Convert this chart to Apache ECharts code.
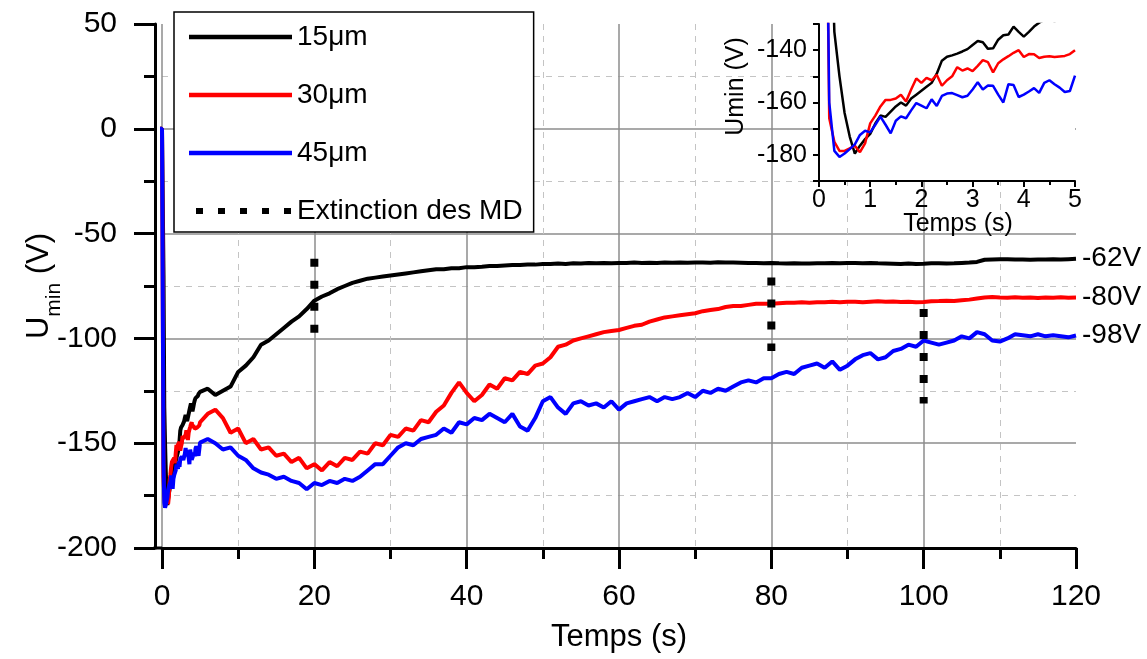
<!DOCTYPE html>
<html><head><meta charset="utf-8">
<script src="https://cdn.jsdelivr.net/npm/echarts@6/dist/echarts.min.js"></script>
<style>html,body{margin:0;padding:0;background:#fff}#c{width:1147px;height:659px}</style>
</head><body><div id="c"></div>
<script>
const FONT = 'Liberation Sans, Arial, Helvetica, sans-serif';
const seriesNames = ['15μm', '30μm', '45μm'];
const seriesColors = ['#000000', '#ff0000', '#0000ff'];
const endLabels = ['-62V', '-80V', '-98V'];
const extinctionName = 'Extinction des MD';

// early transient (also shown in inset), time in s
const tEarly = [-0.8, 0, 0.1, 0.2, 0.3, 0.4, 0.5, 0.6, 0.7, 0.8, 0.9, 1.0, 1.1, 1.2, 1.3, 1.4, 1.5, 1.6, 1.7, 1.8, 1.9, 2.0, 2.1, 2.2, 2.3, 2.4, 2.5, 2.6, 2.7, 2.8, 2.9, 3.0, 3.1, 3.2, 3.3, 3.4, 3.5, 3.6, 3.7, 3.8, 3.9, 4.0, 4.1, 4.2, 4.3, 4.4, 4.5, 4.6, 4.7, 4.8, 4.9, 5.0];
const blackEarly = [0, 0, 0, -70, -133, -150, -164, -173, -179.5, -176.5, -174, -172, -168, -165, -165.5, -163.5, -161.5, -160, -161.2, -158.5, -157, -155.5, -154, -152.5, -149, -144, -142.5, -142, -141.3, -140.5, -139.6, -138, -136.5, -137, -139.5, -139.3, -136, -134.3, -134, -131, -133, -134.8, -133, -131, -129.5, -128.5, -128, -129, -127.5, -126.5, -127, -125.5];
const redEarly = [0, 0, 0, -166, -175, -178.5, -178.5, -177.5, -176.5, -179, -175.6, -168, -165, -161.5, -159, -159, -158.5, -157, -159.6, -155, -150.8, -152.5, -150.6, -151.5, -149.4, -153.6, -151.5, -150, -146.5, -147.8, -147, -148, -146, -143.8, -144.6, -148.5, -145, -143.5, -142.3, -141, -140, -142.6, -141.5, -141.6, -143, -142.5, -142.3, -142.6, -142.4, -142.2, -141.5, -140];
const blueEarly = [0, 0, 0, -160, -178.5, -180.8, -179.5, -177.8, -176, -172.4, -170.8, -171.4, -168.5, -165.4, -168.5, -171.8, -167, -165.3, -166, -163, -160.2, -161.2, -162.2, -158.8, -161.3, -157.5, -156.6, -156.4, -157.2, -158, -157.4, -155, -152.3, -155, -153.5, -153.6, -157, -160, -153, -153.3, -157.9, -157, -155.8, -154.5, -156.3, -152.5, -151.5, -153, -154.3, -156, -155.6, -149.7];

// rest of the record, time in s
const tLate = [6, 7, 8, 9, 10, 11, 12, 13, 14, 15, 16, 17, 18, 19, 20, 21, 22, 23, 24, 25, 26, 27, 28, 29, 30, 31, 32, 33, 34, 35, 36, 37, 38, 39, 40, 41, 42, 43, 44, 45, 46, 47, 48, 49, 50, 51, 52, 53, 54, 55, 56, 57, 58, 59, 60, 61, 62, 63, 64, 65, 66, 67, 68, 69, 70, 71, 72, 73, 74, 75, 76, 77, 78, 79, 80, 81, 82, 83, 84, 85, 86, 87, 88, 89, 90, 91, 92, 93, 94, 95, 96, 97, 98, 99, 100, 101, 102, 103, 104, 105, 106, 107, 108, 109, 110, 111, 112, 113, 114, 115, 116, 117, 118, 119, 120];
const blackLate = [-124, -127, -125, -123, -116, -113, -109, -103, -101, -98, -95, -92, -89.5, -86, -82, -80, -78.5, -76.5, -75, -73.5, -72.5, -71.5, -71, -70.5, -70, -69.5, -69, -68.5, -68, -67.5, -67, -67, -66.5, -66.5, -66, -66, -65.8, -65.5, -65.5, -65.2, -65, -65, -64.8, -64.8, -64.5,
  -64.5, -64.3, -64.5, -64.2, -64.3, -64, -64.2, -64, -64.1, -64,
  -64, -63.8, -64, -63.9, -64, -63.8, -63.9, -63.8, -63.9, -63.8,
  -63.8, -63.9, -63.7, -63.8, -63.8, -63.9, -64, -64, -64.2, -64,
  -64.2, -64.3, -64.2, -64.3, -64.3, -64.2, -64.1, -64, -64.1, -64,
  -64, -64.1, -64, -64.2, -64.3, -64.4, -64.5, -64.3, -64.5, -64.4,
  -64.2, -64.1, -64.3, -64.2, -64, -63.8, -63.5, -62.5, -62.3, -62.2,
  -62.2, -62.4, -62.3, -62.5, -62.4, -62.3, -62.2, -62.4, -62.2, -62];
const redLate = [-136, -134, -138, -145, -143, -150, -148, -153, -152, -156, -155, -159, -157, -162, -160, -163, -159, -161, -157, -158, -154, -155, -150, -151, -146, -147, -143, -144, -139, -140, -135, -132, -126, -121, -126, -130, -127, -122, -124, -119, -120, -116, -117, -113, -112,
  -109, -104, -103, -101, -100, -99, -98, -97, -96.5, -96,
  -95, -94, -93.5, -92, -91, -90, -89.5, -89, -88.5, -88,
  -87, -86.5, -86, -85, -84.5, -84.5, -84, -83.5, -83.5, -83.5,
  -83.2, -83, -83, -82.8, -83, -82.7, -82.8, -82.5, -82.7, -82.5,
  -82.5, -82.7, -82.5, -82.3, -82.5, -82.4, -82.6, -82.5, -82.8, -82.6,
  -82.3, -82.2, -82, -82.2, -81.8, -81.5, -81, -80.5, -80.3, -80.5,
  -80.6, -80.4, -80.6, -80.5, -80.7, -80.5, -80.6, -80.4, -80.6, -80.5];
const blueLate = [-148, -150, -153, -152, -156, -158, -162, -164, -165, -167, -166, -168, -169, -172, -169, -170, -168, -169, -167, -168, -166, -163, -160, -160, -156, -152, -150, -151, -148, -147, -146, -143, -145, -140, -141, -138, -139, -136, -138, -140, -136, -142, -144, -138, -130,
  -128, -133, -136, -131, -130, -132, -131, -133, -130, -134,
  -131, -130, -129, -128, -130, -128, -129, -128, -126, -128,
  -125, -126, -124, -125, -123, -121, -120, -121, -119, -119,
  -117, -116, -117, -114, -113, -112, -114, -111, -115, -113,
  -110, -108, -107, -110, -109, -106, -105, -103, -104, -101,
  -102, -103, -102, -101, -99, -100, -97, -98, -101, -101.5,
  -100, -98, -98.5, -99, -98, -99, -98.5, -99, -99.5, -98.6];

// "Extinction des MD" markers
const extinctionT = [20, 80, 100];
const extinctionTop = [-62, -71, -86];
const extinctionBottom = [-104, -106, -131];

const Y_OFFSET = 7;
const zip = (ts, vs) => ts.map((t, i) => [t, vs[i]]);
const mainValues = [blackEarly.concat(blackLate), redEarly.concat(redLate), blueEarly.concat(blueLate)];
const earlyValues = [blackEarly, redEarly, blueEarly];
const tAll = tEarly.concat(tLate);

const chart = echarts.init(document.getElementById('c'), null, {renderer: 'canvas'});

const series = [];
seriesNames.forEach((name, i) => {
  series.push({
    name, type: 'line', xAxisIndex: 0, yAxisIndex: 0, data: zip(tAll, mainValues[i]),
    showSymbol: false, symbol: 'none', clip: false, z: 2, animation: false,
    lineStyle: {color: seriesColors[i], width: 4}, itemStyle: {color: seriesColors[i]},
    endLabel: {show: true, formatter: endLabels[i], color: '#000', fontSize: 28, fontFamily: FONT, distance: 6}
  });
});
extinctionT.forEach((t, i) => {
  series.push({
    name: extinctionName, type: 'line', xAxisIndex: 0, yAxisIndex: 0,
    data: [[t, extinctionTop[i]], [t, extinctionBottom[i]]],
    showSymbol: false, symbol: 'none', z: 3, animation: false,
    lineStyle: {color: '#000', width: 8, type: [8, 14], cap: 'butt'}, itemStyle: {color: '#000'}
  });
});
seriesNames.forEach((name, i) => {
  series.push({
    name, type: 'line', xAxisIndex: 1, yAxisIndex: 1, data: zip(tEarly, earlyValues[i]),
    showSymbol: false, symbol: 'none', clip: true, z: 5, animation: false,
    lineStyle: {color: seriesColors[i], width: 2.5}, itemStyle: {color: seriesColors[i]}
  });
});

const hiddenMarker = {color: 'rgba(0,0,0,0)', borderColor: 'rgba(0,0,0,0)', borderWidth: 0};
const blackLine = {color: '#000', width: 3};
const option = {
  animation: false,
  backgroundColor: '#fff',
  textStyle: {fontFamily: FONT},
  grid: [
    {left: 162, right: 71, top: 24, bottom: 111, outerBoundsMode: 'none', containLabel: false},
    {left: 819, right: 72, top: 24, bottom: 478, outerBoundsMode: 'none', containLabel: false,
     show: true, backgroundColor: '#fff', borderWidth: 0, z: 1}
  ],
  legend: {
    orient: 'vertical', left: 174, top: 12, itemWidth: 103, itemHeight: 14, itemGap: 30,
    padding: [11, 11, 7, 12], backgroundColor: '#fff', borderColor: '#000', borderWidth: 1.5,
    textStyle: {fontSize: 28, lineHeight: 28, color: '#000', fontFamily: FONT},
    selectedMode: false, z: 6,
    data: [
      {name: seriesNames[0], itemStyle: hiddenMarker, lineStyle: {color: seriesColors[0], width: 4.5}},
      {name: seriesNames[1], itemStyle: hiddenMarker, lineStyle: {color: seriesColors[1], width: 4.5}},
      {name: seriesNames[2], itemStyle: hiddenMarker, lineStyle: {color: seriesColors[2], width: 4.5}},
      {name: extinctionName, itemStyle: hiddenMarker,
       lineStyle: {color: '#000', width: 6, type: [7, 15], dashOffset: 15, cap: 'butt'}}
    ]
  },
  xAxis: [
    {type: 'value', gridIndex: 0, min: 0, max: 120, interval: 20, z: 0,
     axisLine: {show: true, onZero: false, lineStyle: blackLine},
     axisTick: {show: true, inside: false, length: 21, lineStyle: blackLine},
     minorTick: {show: true, splitNumber: 2, length: 11, lineStyle: blackLine},
     axisLabel: {fontSize: 30, color: '#000', margin: 34, fontFamily: FONT},
     splitLine: {show: true, showMinLine: true, showMaxLine: false, lineStyle: {color: '#8c8c8c', width: 1.5}},
     minorSplitLine: {show: true, lineStyle: {color: '#c4c4c4', width: 1, type: [6, 6]}},
     name: 'Temps (s)', nameLocation: 'middle', nameGap: 74, nameMoveOverlap: false,
     nameTextStyle: {fontSize: 31, color: '#000', fontFamily: FONT}},
    {type: 'value', gridIndex: 1, min: 0, max: 5, interval: 1, z: 2,
     axisLine: {show: true, onZero: false, lineStyle: {color: '#000', width: 2}},
     axisTick: {show: true, inside: false, length: 6, lineStyle: {color: '#000', width: 2}},
     minorTick: {show: true, splitNumber: 2, length: 4, lineStyle: {color: '#000', width: 2}},
     axisLabel: {fontSize: 25, color: '#000', margin: 7, fontFamily: FONT},
     splitLine: {show: false},
     name: 'Temps (s)', nameLocation: 'middle', nameGap: 31, nameMoveOverlap: false,
     nameTextStyle: {fontSize: 25, color: '#000', fontFamily: FONT, padding: [0, 0, 0, 22]}}
  ],
  yAxis: [
    {type: 'value', gridIndex: 0, min: -200, max: 50, interval: 50, offset: Y_OFFSET, z: 0,
     axisLine: {show: true, onZero: false, lineStyle: blackLine},
     axisTick: {show: true, inside: false, length: 21, lineStyle: blackLine},
     minorTick: {show: true, splitNumber: 2, length: 11, lineStyle: blackLine},
     axisLabel: {fontSize: 30, color: '#000', margin: 38, fontFamily: FONT},
     splitLine: {show: true, showMinLine: false, showMaxLine: false, lineStyle: {color: '#8c8c8c', width: 1.5}},
     minorSplitLine: {show: true, lineStyle: {color: '#c4c4c4', width: 1, type: [6, 6]}},
     name: '{u|U}{s|min}{u| (V)}', nameLocation: 'middle', nameRotate: 90, nameGap: 100, nameMoveOverlap: false,
     nameTextStyle: {color: '#000', fontFamily: FONT, rich: {
       u: {fontSize: 31, lineHeight: 31, verticalAlign: 'top', color: '#000', fontFamily: FONT},
       s: {fontSize: 21, lineHeight: 21, verticalAlign: 'top', padding: [20, 0, 0, 0], color: '#000', fontFamily: FONT}
     }}},
    {type: 'value', gridIndex: 1, min: -190, max: -130, interval: 10, z: 2,
     axisLine: {show: true, onZero: false, lineStyle: {color: '#000', width: 2}},
     axisTick: {show: true, inside: false, length: 6, lineStyle: {color: '#000', width: 2}},
     axisLabel: {fontSize: 25, color: '#000', margin: 12, fontFamily: FONT,
       formatter: v => (v % 20 === 0 ? String(v) : '')},
     splitLine: {show: false},
     name: 'Umin (V)', nameLocation: 'middle', nameRotate: 90, nameGap: 70, nameMoveOverlap: false,
     nameTextStyle: {fontSize: 25, color: '#000', fontFamily: FONT, padding: [0, 0, 0, 32]}}
  ],
  series
};
chart.setOption(option);

// extend the x axis line to the offset y axis line
const corner = chart.convertToPixel({xAxisIndex: 0, yAxisIndex: 0}, [0, -200]);
chart.setOption({
  graphic: [{type: 'line', z: 10, silent: true,
    shape: {x1: corner[0] - Y_OFFSET - 1.5, y1: corner[1], x2: corner[0], y2: corner[1]},
    style: {stroke: '#000', lineWidth: 3}}]
});
</script>
</body></html>
